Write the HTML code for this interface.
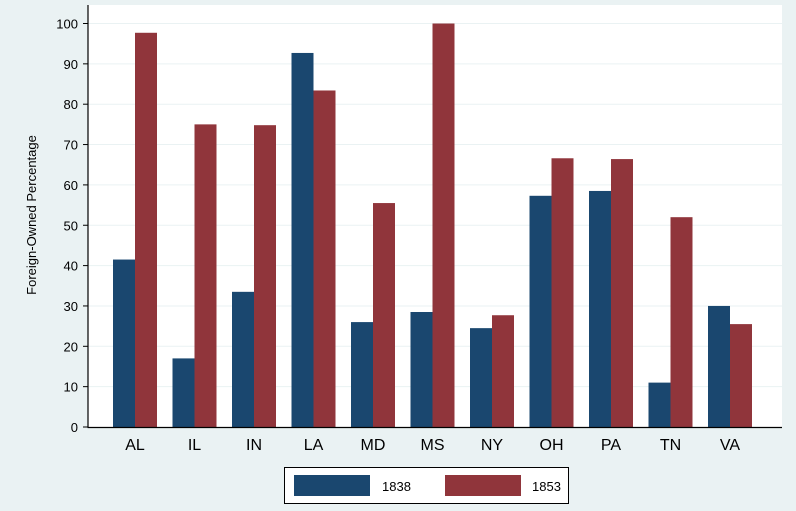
<!DOCTYPE html>
<html><head><meta charset="utf-8"><style>
body{margin:0;background:#eaf2f3;}
svg{display:block;font-family:"Liberation Sans",Arial,sans-serif;}
</style></head><body>
<svg id="chart" width="796" height="511">
<rect x="0" y="0" width="796" height="511" fill="#eaf2f3"/>
<rect x="88" y="5" width="694" height="422" fill="#ffffff"/>
<g id="grid"></g><g id="bars"></g><g id="axes"></g>
<text transform="translate(36,215) rotate(-90)" text-anchor="middle" font-size="13" fill="#000">Foreign-Owned Percentage</text>
<g>
<rect x="284.5" y="467.5" width="284" height="36" fill="#fff" stroke="#000" stroke-width="1"/>
<rect x="294" y="475" width="76" height="21" fill="#1a476f"/>
<text x="382" y="491" font-size="13">1838</text>
<rect x="445" y="475" width="76" height="21" fill="#90353b"/>
<text x="532" y="491" font-size="13">1853</text>
</g>
</svg>
<script>
const categories=["AL","IL","IN","LA","MD","MS","NY","OH","PA","TN","VA"];
const values1838=[41.5,17,33.5,92.7,26,28.5,24.5,57.3,58.5,11,30];
const values1853=[97.7,75,74.8,83.4,55.5,100,27.7,66.6,66.4,52,25.5];
const yTicks=[0,10,20,30,40,50,60,70,80,90,100];
const NS="http://www.w3.org/2000/svg";
const y0=427,yTop=23.5,x0=135,step=59.5,bw=22;
function yS(v){return y0-(v/100)*(y0-yTop);}
function xS(i){return x0+i*step;}
function mk(t,a,p){const e=document.createElementNS(NS,t);for(const k in a)e.setAttribute(k,a[k]);p.appendChild(e);return e;}
const grid=document.getElementById('grid'),bars=document.getElementById('bars'),axes=document.getElementById('axes');
yTicks.forEach(v=>{
 if(v>0){const g=mk('line',{x1:88,x2:782,y1:yS(v),y2:yS(v),stroke:'#eaf2f3','stroke-width':1},grid);
 
 }
 const t=mk('line',{x1:83,x2:88,y1:yS(v),y2:yS(v),stroke:'#000'},axes);
 
 
 const l=mk('text',{x:78,y:yS(v)+5,'text-anchor':'end','font-size':13},axes);
 l.textContent=v;
 
 
});
categories.forEach((c,i)=>{
 const cx=xS(i);
 const b1=mk('rect',{x:cx-bw,y:yS(values1838[i]),width:bw,height:y0-yS(values1838[i]),fill:'#1a476f'},bars);
 
 
 const b2=mk('rect',{x:cx,y:yS(values1853[i]),width:bw,height:y0-yS(values1853[i]),fill:'#90353b'},bars);
 
 
 const l=mk('text',{x:cx,y:450,'text-anchor':'middle','font-size':16},axes);
 l.textContent=c;
 
 
});
const ya=mk('line',{x1:88,x2:88,y1:5,y2:427.5,stroke:'#000','stroke-width':1.2},axes);


const xa=mk('line',{x1:87.5,x2:782,y1:427.5,y2:427.5,stroke:'#000','stroke-width':1.2},axes);


</script>
</body></html>
